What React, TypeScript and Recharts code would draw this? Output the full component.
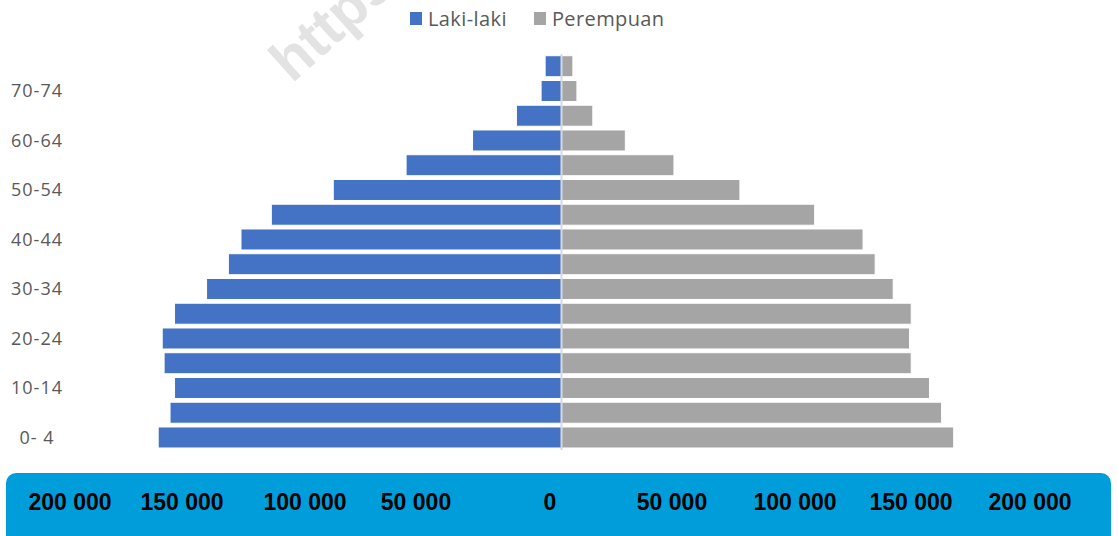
import { Bar, BarChart, ReferenceLine, XAxis, YAxis } from "recharts";

const ageGroups = [
  "0- 4", "5- 9", "10-14", "15-19", "20-24", "25-29", "30-34", "35-39",
  "40-44", "45-49", "50-54", "55-59", "60-64", "65-69", "70-74", "75+",
];

const laki = [
  170000, 165000, 163100, 167500, 168300, 163100, 149600, 140400,
  135100, 122300, 96200, 65500, 37500, 19000, 8600, 6900,
];

const perempuan = [
  165300, 160200, 155100, 147400, 146700, 147400, 139800, 132200,
  127100, 106700, 75200, 47400, 26900, 13200, 6500, 4800,
];

const bandLabels = [
  "200 000", "150 000", "100 000", "50 000", "0",
  "50 000", "100 000", "150 000", "200 000",
];
// where the pasted label strip puts each label (it doesn't line up with the axis)
const bandLabelX = [70, 182, 305, 416, 550, 672, 795, 911, 1030];

const MALE = "#4472c4";
const FEMALE = "#a5a5a5";
const TEXT = "#595959";
const FONT = "'Open Sans', 'Liberation Sans', sans-serif";

const data = ageGroups.map((age, i) => ({
  age,
  "Laki-laki": -laki[i],
  Perempuan: perempuan[i],
}));

const AgeTick = ({ y, payload }: any) => (
  <text
    x={37}
    y={y}
    dy="0.35em"
    textAnchor="middle"
    fill={TEXT}
    fontSize={18}
    letterSpacing={1}
    fontFamily={FONT}
  >
    {payload.value}
  </text>
);

const LegendBox = () => (
  <div
    style={{
      position: "absolute",
      top: 5,
      left: 410,
      display: "flex",
      alignItems: "center",
      gap: 27,
      fontFamily: FONT,
      fontSize: 20,
      letterSpacing: 0.4,
      color: TEXT,
      zIndex: 2,
      whiteSpace: "nowrap",
    }}
  >
    {[
      ["Laki-laki", MALE],
      ["Perempuan", FEMALE],
    ].map(([name, color]) => (
      <span key={name} style={{ display: "flex", alignItems: "center", gap: 6 }}>
        <span style={{ width: 12, height: 13, background: color, display: "inline-block" }} />
        {name}
      </span>
    ))}
  </div>
);

export default function App() {
  return (
    <div
      style={{
        position: "absolute",
        left: 0,
        top: 0,
        width: 1118,
        height: 536,
        overflow: "hidden",
        background: "#fff",
      }}
    >
      <svg
        width={1118}
        height={536}
        style={{ position: "absolute", left: 0, top: 0, zIndex: 0 }}
      >
        <text
          x={292}
          y={84}
          transform="rotate(-42 292 84)"
          fontSize={58}
          fontWeight="bold"
          fontFamily="'Liberation Sans', sans-serif"
          fill="#e3e3e3"
        >
          https://
        </text>
      </svg>

      <LegendBox />

      <div style={{ position: "absolute", left: 0, top: 0, zIndex: 1 }}>
        <BarChart
          width={1118}
          height={536}
          data={data}
          layout="vertical"
          stackOffset="sign"
          barCategoryGap="7%"
          margin={{ top: 54, right: 82, bottom: 56, left: 0 }}
        >
          <XAxis
            type="number"
            domain={[-200000, 200000]}
            axisLine={false}
            tickLine={false}
            tick={false}
            height={30}
          />
          <YAxis
            type="category"
            dataKey="age"
            reversed
            width={87}
            interval={1}
            axisLine={false}
            tickLine={false}
            tick={<AgeTick />}
          />
          <Bar
            dataKey="Laki-laki"
            stackId="pop"
            fill={MALE}
            stroke="#ffffff"
            strokeWidth={1}
            isAnimationActive={false}
          />
          <Bar
            dataKey="Perempuan"
            stackId="pop"
            fill={FEMALE}
            stroke="#ffffff"
            strokeWidth={1}
            isAnimationActive={false}
          />
          <ReferenceLine x={0} stroke="#d9d9d9" strokeWidth={2} />
        </BarChart>
      </div>

      <div
        style={{
          position: "absolute",
          left: 6,
          top: 473,
          width: 1105,
          height: 80,
          background: "#009ddb",
          borderRadius: 10,
          zIndex: 3,
        }}
      >
        {bandLabels.map((label, i) => (
          <span
            key={i}
            style={{
              position: "absolute",
              left: bandLabelX[i] - 6,
              top: 16,
              transform: "translateX(-50%)",
              fontFamily: "'Liberation Sans', Arial, sans-serif",
              fontWeight: "bold",
              fontSize: 23,
              color: "#000",
              whiteSpace: "nowrap",
            }}
          >
            {label}
          </span>
        ))}
      </div>
    </div>
  );
}
